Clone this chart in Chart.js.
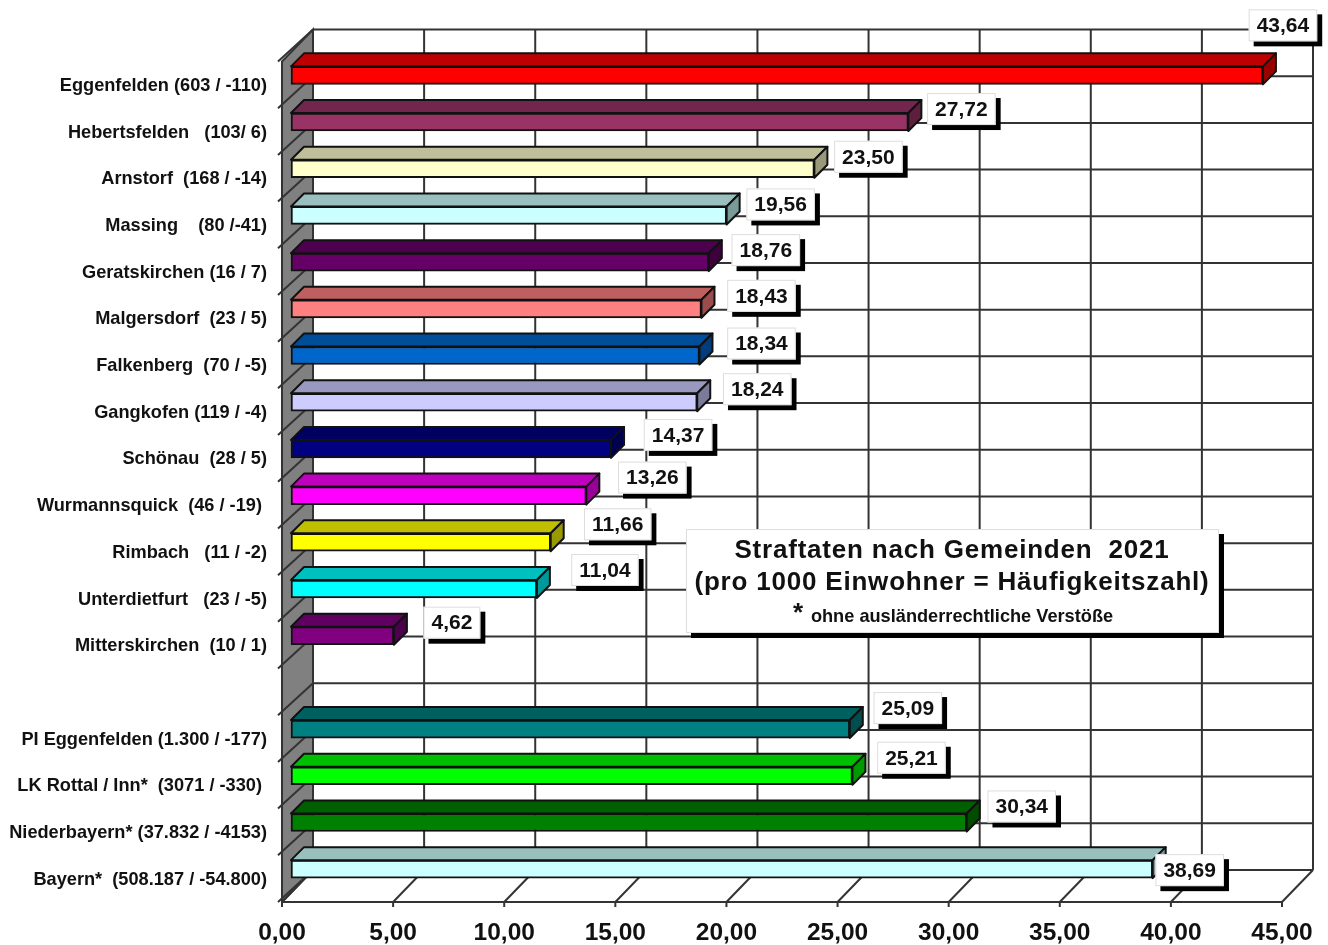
<!DOCTYPE html>
<html>
<head>
<meta charset="utf-8">
<title>Straftaten nach Gemeinden 2021</title>
<script src="https://cdn.jsdelivr.net/npm/chart.js@4"></script>
<style>
    html, body { margin: 0; padding: 0; background: #fff; }
    canvas { display: block; }
</style>
</head>
<body>
<canvas id="chart" width="1328" height="945"></canvas>
<script>
// --- data ---
const categories = [
    "Eggenfelden (603 / -110)", "Hebertsfelden   (103/ 6)", "Arnstorf  (168 / -14)",
    "Massing    (80 /-41)", "Geratskirchen (16 / 7)", "Malgersdorf  (23 / 5)",
    "Falkenberg  (70 / -5)", "Gangkofen (119 / -4)", "Schönau  (28 / 5)",
    "Wurmannsquick  (46 / -19) ", "Rimbach   (11 / -2)", "Unterdietfurt   (23 / -5)",
    "Mitterskirchen  (10 / 1)", "", "PI Eggenfelden (1.300 / -177)",
    "LK Rottal / Inn*  (3071 / -330) ", "Niederbayern* (37.832 / -4153)", "Bayern*  (508.187 / -54.800)"
];
const values = [43.64, 27.72, 23.50, 19.56, 18.76, 18.43, 18.34, 18.24, 14.37, 13.26, 11.66, 11.04, 4.62, null, 25.09, 25.21, 30.34, 38.69];
const barColors = [
    "#ff0000", "#993366", "#ffffcc", "#ccffff", "#660066", "#ff8080", "#0066cc", "#ccccff", "#000080",
    "#ff00ff", "#ffff00", "#00ffff", "#800080", "#ffffff", "#008080", "#00ff00", "#008000", "#ccffff"
];
const xTicks = [0, 5, 10, 15, 20, 25, 30, 35, 40, 45];
const titleLines = ["Straftaten nach Gemeinden  2021", "(pro 1000 Einwohner = Häufigkeitszahl)"];
const footnote = "ohne ausländerrechtliche Verstöße";

// where each value box sits, relative to the end of its bar
const labelOffsets = [
    [20, -50], [53, -13], [54, -12], [54, -11], [57, -12], [60, -13], [62, -12], [60, -13], [67, -14],
    [66, -18], [67, -18], [68, -19], [58, -13], null, [58, -21], [59, -18], [55, -16], [37, 1]
];

const DEPTH_X = 31, DEPTH_Y = 32;   // wall depth
const BAR_DX = 9, BAR_DY = -9.5;    // bar front plane inside the depth
const BAR_DEPTH = 13;
const GRID = "#333";

function shade(hex, f) {
    const n = parseInt(hex.slice(1), 16);
    const c = [n >> 16, (n >> 8) & 255, n & 255].map(v => Math.round(v * f));
    return `rgb(${c[0]},${c[1]},${c[2]})`;
}

function line(ctx, x1, y1, x2, y2) {
    ctx.beginPath();
    ctx.moveTo(x1, y1);
    ctx.lineTo(x2, y2);
    ctx.stroke();
}

function poly(ctx, pts, fill) {
    ctx.beginPath();
    pts.forEach((p, i) => i ? ctx.lineTo(p[0], p[1]) : ctx.moveTo(p[0], p[1]));
    ctx.closePath();
    ctx.fillStyle = fill;
    ctx.fill();
    ctx.stroke();
}

function shadowBox(ctx, x, y, w, h) {
    ctx.fillStyle = "#000";
    ctx.fillRect(x + 5, y + 5, w, h);
    ctx.fillStyle = "#fff";
    ctx.fillRect(x, y, w, h);
    ctx.strokeStyle = "#ddd";
    ctx.lineWidth = 1;
    ctx.strokeRect(x + 0.5, y + 0.5, w - 1, h - 1);
}

const walls3d = {
    id: "walls3d",
    beforeDatasetsDraw(chart) {
        const ctx = chart.ctx, a = chart.chartArea, xs = chart.scales.x, band = a.height / categories.length;
        ctx.save();
        ctx.strokeStyle = GRID;
        ctx.lineWidth = 2;

        // left wall
        poly(ctx, [[a.left, a.top], [a.left + DEPTH_X, a.top - DEPTH_Y], [a.left + DEPTH_X, a.bottom - DEPTH_Y], [a.left, a.bottom]], "#808080");

        // horizontal grid, back wall and left wall
        for (let i = 0; i <= categories.length; i++) {
            const y = a.top + band * i;
            line(ctx, a.left - 4, y, a.left + DEPTH_X, y - DEPTH_Y);
            line(ctx, a.left + DEPTH_X, y - DEPTH_Y, a.right + DEPTH_X, y - DEPTH_Y);
        }

        // vertical grid, floor and back wall
        xTicks.forEach(t => {
            const x = xs.getPixelForValue(t);
            line(ctx, x, a.bottom + 5, x, a.bottom);
            line(ctx, x, a.bottom, x + DEPTH_X, a.bottom - DEPTH_Y);
            line(ctx, x + DEPTH_X, a.bottom - DEPTH_Y, x + DEPTH_X, a.top - DEPTH_Y);
        });
        line(ctx, a.left, a.bottom, a.right, a.bottom);
        ctx.restore();

        // bars go onto the plane inside the depth
        ctx.save();
        ctx.translate(BAR_DX, BAR_DY);
    },
    afterDatasetsDraw(chart) {
        const ctx = chart.ctx, meta = chart.getDatasetMeta(0);
        ctx.restore();

        // top and end faces of the bars
        ctx.save();
        ctx.translate(BAR_DX, BAR_DY);
        ctx.strokeStyle = "#111";
        ctx.lineWidth = 2;
        ctx.lineJoin = "round";
        meta.data.forEach((bar, i) => {
            if (values[i] === null) return;
            const top = bar.y - bar.height / 2, bottom = bar.y + bar.height / 2;
            poly(ctx, [[bar.base, top], [bar.base + BAR_DEPTH, top - BAR_DEPTH], [bar.x + BAR_DEPTH, top - BAR_DEPTH], [bar.x, top]], shade(barColors[i], 0.75));
            poly(ctx, [[bar.x, top], [bar.x + BAR_DEPTH, top - BAR_DEPTH], [bar.x + BAR_DEPTH, bottom - BAR_DEPTH], [bar.x, bottom]], shade(barColors[i], 0.6));
        });
        ctx.restore();

        // value boxes
        ctx.save();
        ctx.font = "bold 21px 'Liberation Sans'";
        ctx.textAlign = "center";
        ctx.textBaseline = "middle";
        meta.data.forEach((bar, i) => {
            if (values[i] === null) return;
            const text = values[i].toFixed(2).replace(".", ",");
            const w = ctx.measureText(text).width + 16, h = 32;
            const cx = bar.x + BAR_DX + labelOffsets[i][0], cy = bar.y + BAR_DY + labelOffsets[i][1];
            shadowBox(ctx, cx - w / 2, cy - h / 2, w, h);
            ctx.fillStyle = "#111";
            ctx.fillText(text, cx, cy + 1);
        });

        // title box
        shadowBox(ctx, 686, 529, 533, 104);
        ctx.fillStyle = "#111";
        ctx.font = "bold 26px 'Liberation Sans'";
        ctx.letterSpacing = "0.8px";
        ctx.fillText(titleLines[0], 952, 551);
        ctx.fillText(titleLines[1], 952, 583);
        ctx.letterSpacing = "0px";
        ctx.font = "bold 26px 'Liberation Sans'";
        ctx.fillText("*", 798, 614);
        ctx.font = "bold 18.2px 'Liberation Sans'";
        ctx.fillText(footnote, 962, 617);
        ctx.restore();
    }
};

new Chart(document.getElementById("chart"), {
    type: "bar",
    plugins: [walls3d],
    data: {
        labels: categories,
        datasets: [{
            data: values,
            xAxisID: "x1",
            backgroundColor: barColors,
            borderColor: "#111",
            borderWidth: 2,
            borderSkipped: false,
            barThickness: 18,
            clip: false
        }]
    },
    options: {
        indexAxis: "y",
        responsive: false,
        animation: false,
        layout: { padding: { top: 61.5, right: 46, left: 0, bottom: 0 } },
        plugins: { legend: { display: false }, tooltip: { enabled: false } },
        scales: {
            x: {
                type: "linear",
                position: "bottom",
                min: 0,
                max: 45,
                afterFit: s => { s.height = 43; s.paddingLeft = 0; s.paddingRight = 0; },
                grid: { display: false, drawTicks: false },
                border: { display: false },
                ticks: {
                    stepSize: 5,
                    padding: 17,
                    maxRotation: 0,
                    color: "#111",
                    font: { family: "'Liberation Sans'", size: 24.5, weight: "bold" },
                    callback: v => v.toFixed(2).replace(".", ",")
                }
            },
            // the bars in the picture run a touch longer than the printed axis
            x1: { axis: "x", type: "linear", display: false, min: 0, max: 44.9 },
            y: {
                type: "category",
                afterFit: s => { s.width = 282; },
                grid: { display: false, drawTicks: false },
                border: { display: false },
                ticks: {
                    autoSkip: false,
                    padding: 15,
                    labelOffset: 1,
                    color: "#111",
                    font: { family: "'Liberation Sans'", size: 18.2, weight: "bold" }
                }
            }
        }
    }
});
</script>
</body>
</html>
